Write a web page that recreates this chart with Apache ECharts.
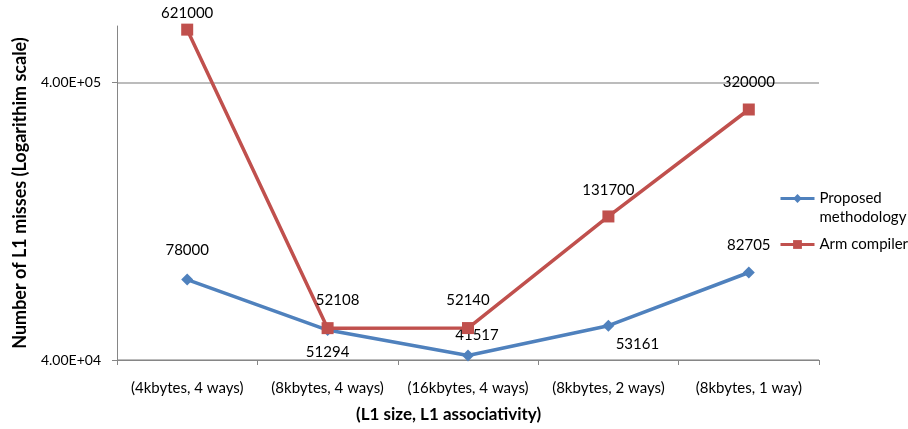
<!DOCTYPE html>
<html>
<head>
<meta charset="utf-8">
<script src="https://cdn.jsdelivr.net/npm/echarts@6/dist/echarts.min.js"></script>
<style>
  html, body { margin: 0; padding: 0; background: #fff; }
  #chart { width: 908px; height: 429px; }
</style>
</head>
<body>
<div id="chart"></div>
<script>
// L1 cache configurations (size, associativity)
const categories = [
  '(4kbytes, 4 ways)',
  '(8kbytes, 4 ways)',
  '(16kbytes, 4 ways)',
  '(8kbytes, 2 ways)',
  '(8kbytes, 1 way)'
];

// L1 miss counts per configuration
const proposedValues = [78000, 51294, 41517, 53161, 82705];
const armValues = [621000, 52108, 52140, 131700, 320000];

// Gridline / label values on the logarithmic axis
const yTickValues = [40000, 400000];

const FONT = 'Lato';
const BLUE = '#4F81BD';
const RED = '#C0504D';
const PROPOSED = 'Proposed methodology';
const ARM = 'Arm compiler';

// Per-point label placement
const proposedLabelPos = [
  { position: 'top', offset: [0, -8] },
  { position: 'bottom', offset: [0, 1] },
  { position: 'top', offset: [9, 1] },
  { position: 'bottom', offset: [29, -3] },
  { position: 'top', offset: [0, -6] }
];
const armLabelPos = [
  { position: 'top', offset: [0, 5] },
  { position: 'top', offset: [10, -6] },
  { position: 'top', offset: [0, -6] },
  { position: 'top', offset: [0, -5] },
  { position: 'top', offset: [0, -6] }
];

function sci(v) {
  const exp = Math.floor(Math.log10(v) + 1e-9);
  const mant = v / Math.pow(10, exp);
  const sign = exp < 0 ? '-' : '+';
  const e = String(Math.abs(exp)).padStart(2, '0');
  return mant.toFixed(2) + 'E' + sign + e;
}

function buildData(values, labelPos) {
  return values.map((v, i) => ({
    value: v,
    label: Object.assign({ show: true }, labelPos[i])
  }));
}

const chart = echarts.init(document.getElementById('chart'), null, { renderer: 'canvas' });

chart.setOption({
  animation: false,
  backgroundColor: '#ffffff',
  textStyle: { fontFamily: FONT },
  grid: { left: 117, right: 89, top: 26, bottom: 69, containLabel: false },
  title: {
    text: '(L1 size, L1 associativity)',
    left: 356,
    top: 406,
    padding: 0,
    textStyle: { fontFamily: FONT, fontSize: 17, fontWeight: 'bold', color: '#000' }
  },
  legend: {
    orient: 'vertical',
    left: 774,
    top: 165,
    itemWidth: 34,
    itemHeight: 11,
    itemGap: 8,
    lineStyle: { width: 3 },
    // the icon sits beside the first line of the two-line entry
    formatter: name => name === PROPOSED ? '\nProposed\nmethodology' : name,
    textStyle: { fontFamily: FONT, fontSize: 15, color: '#000', lineHeight: 19 },
    data: [PROPOSED, ARM]
  },
  xAxis: {
    type: 'category',
    data: categories,
    boundaryGap: true,
    axisLine: { show: true, lineStyle: { color: '#868686', width: 1 } },
    axisTick: { show: true, alignWithLabel: false, length: 5, lineStyle: { color: '#868686' } },
    axisLabel: { fontFamily: FONT, fontSize: 15, color: '#000', margin: 21, interval: 0 },
    splitLine: { show: false }
  },
  yAxis: {
    type: 'log',
    logBase: 10,
    min: 40000,
    max: 640000,
    name: 'Number of L1 misses (Logarithim scale)',
    nameLocation: 'middle',
    nameGap: 88,
    nameTextStyle: { fontFamily: FONT, fontSize: 18, fontWeight: 'bold', color: '#000' },
    axisLine: { show: true, lineStyle: { color: '#868686', width: 1 } },
    axisTick: { show: true, length: 5, customValues: yTickValues, lineStyle: { color: '#868686' } },
    axisLabel: {
      fontFamily: FONT, fontSize: 14, color: '#000', margin: 16,
      customValues: yTickValues,
      formatter: v => sci(v)
    },
    splitLine: { show: true, lineStyle: { color: '#a6a6a6', width: 1.5 } }
  },
  series: [
    {
      name: PROPOSED,
      type: 'line',
      data: buildData(proposedValues, proposedLabelPos),
      symbol: 'diamond',
      symbolSize: 12,
      lineStyle: { color: BLUE, width: 3.5 },
      itemStyle: { color: BLUE },
      label: { fontFamily: FONT, fontSize: 15, color: '#000', distance: 8 },
      z: 2
    },
    {
      name: ARM,
      type: 'line',
      data: buildData(armValues, armLabelPos),
      symbol: 'rect',
      symbolSize: 12,
      lineStyle: { color: RED, width: 3.5 },
      itemStyle: { color: RED },
      label: { fontFamily: FONT, fontSize: 15, color: '#000', distance: 8 },
      z: 3
    }
  ]
});
</script>
</body>
</html>
